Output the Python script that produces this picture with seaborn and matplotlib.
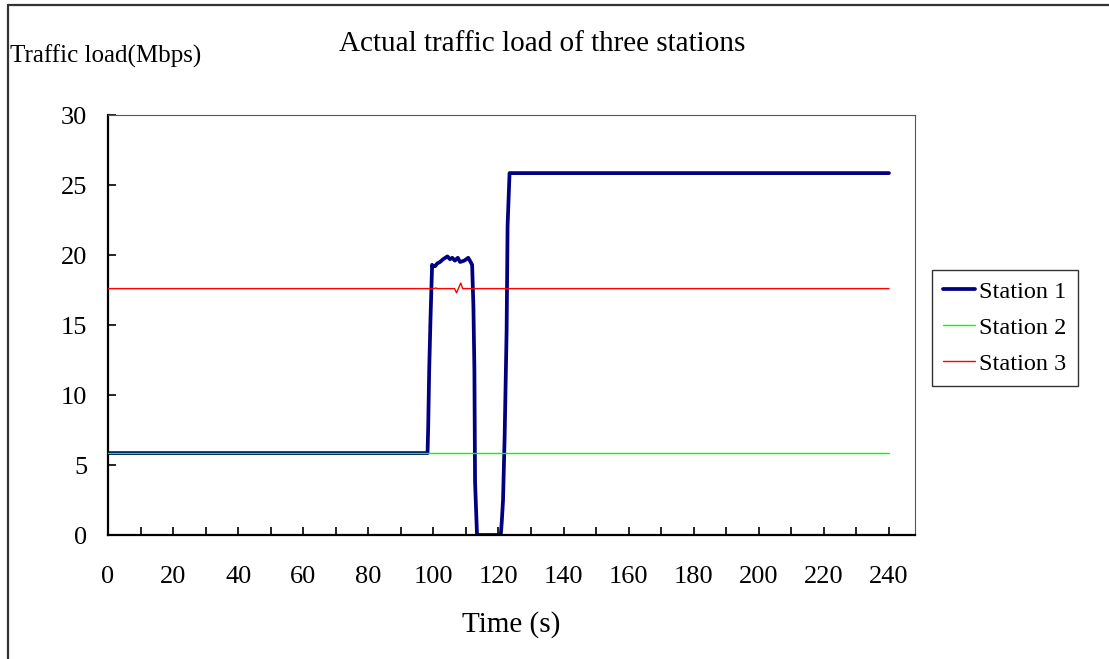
import numpy as np
import pandas as pd
import matplotlib
matplotlib.use("Agg")
import matplotlib.pyplot as plt
from matplotlib.lines import Line2D
from matplotlib.ticker import MultipleLocator
import seaborn as sns

# Station 1: measured traffic load (Mbps) over time (s)
s1_time = [0, 98.2, 98.4, 98.7, 99.1, 99.6, 99.8, 100.5, 101.2, 102.0, 103.0,
           104.3, 105.1, 105.8, 106.6, 107.5, 108.2, 109.5, 110.7, 111.2, 111.9,
           112.3, 112.6, 112.8, 113.4, 120.7, 121.0, 121.4, 121.9, 122.5,
           122.8, 123.4, 240]
s1_load = [5.85, 5.85, 7.7, 11.7, 15.4, 19.3, 19.2, 19.2, 19.4, 19.5, 19.7,
           19.9, 19.7, 19.8, 19.6, 19.8, 19.5, 19.6, 19.8, 19.6, 19.3,
           16.3, 11.8, 3.8, 0.0, 0.0, 0.9, 2.5, 7.1, 14.6,
           22.1, 25.85, 25.85]

# Station 2: constant load
s2_time = [0, 240]
s2_load = [5.85, 5.85]

# Station 3: nearly constant load with a small dip around 107 s
s3_time = [0, 100.3, 100.7, 101.2, 106.5, 107.1, 108.4, 109.0, 240]
s3_load = [17.6, 17.6, 17.65, 17.6, 17.6, 17.3, 18.0, 17.6, 17.6]

series_names = ["Station 1", "Station 2", "Station 3"]
series_colors = ["#000080", "#00FF00", "#FF0000"]
series_widths = [2.7, 1.0, 1.0]

x_ticks = list(range(0, 241, 20))
y_ticks = list(range(0, 31, 5))

sns.set_style("white")
serif = ["Liberation Serif", "DejaVu Serif"]
plt.rcParams["font.family"] = serif
plt.rcParams["text.color"] = "black"
plt.rcParams["xtick.color"] = "black"
plt.rcParams["ytick.color"] = "black"

W, H = 1109, 659
fig = plt.figure(figsize=(W / 100, H / 100), dpi=100)
ax = fig.add_axes([108 / W, 1 - 535 / H, (915 - 108) / W, (535 - 115) / H])

frames = [
    pd.DataFrame({"time": s1_time, "load": s1_load}),
    pd.DataFrame({"time": s2_time, "load": s2_load}),
    pd.DataFrame({"time": s3_time, "load": s3_load}),
]
for df, name, col, lw, z in zip(frames, series_names, series_colors,
                                series_widths, [2, 3, 4]):
    sns.lineplot(data=df, x="time", y="load", ax=ax, color=col, linewidth=lw,
                 estimator=None, sort=False, zorder=z, legend=False)

ax.set_xlim(0, 248)
ax.set_ylim(0, 30)
ax.set_xticks(x_ticks)
ax.xaxis.set_minor_locator(MultipleLocator(10))
ax.set_yticks(y_ticks)
ax.set_xlabel("")
ax.set_ylabel("")

ax.tick_params(axis="x", which="both", direction="in", length=6, width=1.2,
               color="black", bottom=True, pad=22, labelsize=19)
ax.tick_params(axis="y", which="both", direction="in", length=6, width=1.2,
               color="black", left=True, pad=15, labelsize=19)

for side in ["left", "bottom"]:
    ax.spines[side].set_color("black")
    ax.spines[side].set_linewidth(1.6)
for side in ["top", "right"]:
    ax.spines[side].set_color("#555555")
    ax.spines[side].set_linewidth(0.8)

fig.text(542 / W, 1 - 44 / H, "Actual traffic load of three stations",
         ha="center", va="center", fontsize=21)
fig.text(10 / W, 1 - 56 / H, "Traffic load(Mbps)", ha="left", va="center",
         fontsize=18)
fig.text(511 / W, 1 - 625 / H, "Time (s)", ha="center", va="center",
         fontsize=21)

handles = [Line2D([0], [0], color=c, linewidth=w)
           for c, w in zip(series_colors, series_widths)]
leg = fig.legend(handles, series_names, loc="upper left",
                 bbox_to_anchor=(932 / W, 1 - 270 / H), borderaxespad=0,
                 fontsize=17.5, frameon=True, fancybox=False, shadow=False,
                 handlelength=1.3, handletextpad=0.2, labelspacing=0.57,
                 borderpad=0.45)
leg.get_frame().set_edgecolor("black")
leg.get_frame().set_linewidth(1.0)

# outer figure border (top and left edges)
fig.add_artist(Line2D([8 / W, 8 / W], [1 - 5 / H, 0], transform=fig.transFigure,
                      color="#333333", linewidth=1.6))
fig.add_artist(Line2D([8 / W, 1], [1 - 5 / H, 1 - 5 / H], transform=fig.transFigure,
                      color="#333333", linewidth=1.6))

fig.savefig("out.png", dpi=100, facecolor="white")
